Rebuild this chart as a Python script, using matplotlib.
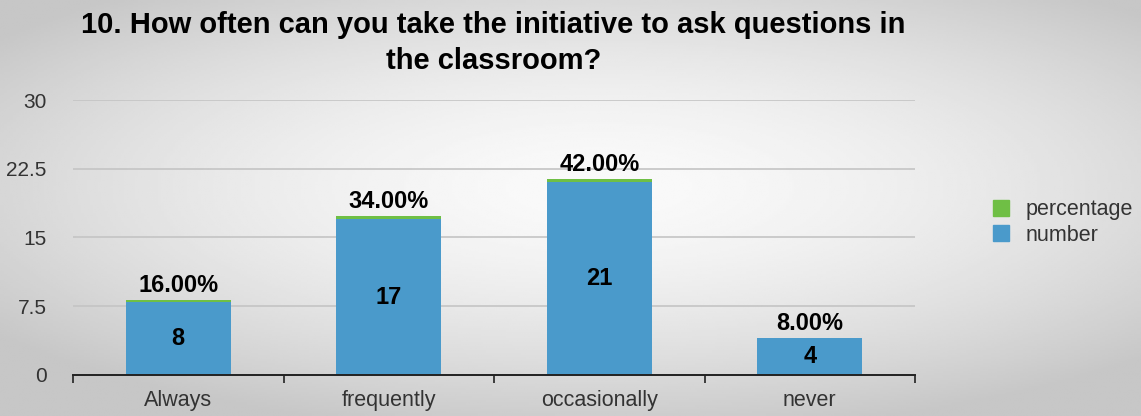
import numpy as np
import matplotlib.pyplot as plt
from matplotlib.patches import Patch

# --- données ---
categories = ['Always', 'frequently', 'occasionally', 'never']
number = [8, 17, 21, 4]
percentage = [0.16, 0.34, 0.42, 0.08]
yticks = [0, 7.5, 15, 22.5, 30]

blue = '#4a9acb'
green = '#6fbf45'

plt.rcParams['font.family'] = ['Liberation Sans', 'DejaVu Sans']

fig = plt.figure(figsize=(11.41, 4.16), dpi=100)

# fond dégradé gris -> blanc
bg = fig.add_axes([0, 0, 1, 1], zorder=-10)
gx, gy = np.meshgrid(np.linspace(-1, 1, 400), np.linspace(-1, 1, 200))
r = np.sqrt(((gx - 0.05) / 1.1) ** 2 + ((gy + 0.1) / 1.0) ** 2)
bg.imshow(0.98 - 0.15 * np.clip(r, 0, 1.2) ** 1.6, cmap='gray', vmin=0, vmax=1,
          aspect='auto', extent=[0, 1, 0, 1])
bg.axis('off')

ax = fig.add_axes([0.064, 0.0986, 0.738, 0.661])
ax.set_facecolor('none')

x = np.arange(len(categories))
ax.bar(x, number, width=0.5, color=blue, zorder=3)
ax.bar(x, percentage, width=0.5, bottom=number, color=green, zorder=3)

for xi, n, p in zip(x, number, percentage):
    ax.text(xi, n / 2, str(n), ha='center', va='center',
            fontsize=17, fontweight='bold', zorder=4)
    ax.annotate(f'{p * 100:.2f}%', (xi, n + p), xytext=(0, 2),
                textcoords='offset points', ha='center', va='bottom',
                fontsize=17, fontweight='bold', zorder=4)

ax.set_xlim(-0.5, len(categories) - 0.5)
ax.set_ylim(0, 30)
ax.set_yticks(yticks)
ax.set_yticklabels(['0', '7.5', '15', '22.5', '30'])
ax.yaxis.grid(True, color='#c4c4c4', linewidth=1.2, zorder=0)
ax.tick_params(axis='y', length=0, pad=19, labelsize=15, labelcolor='#333333')

# graduations x aux bords des catégories
ax.set_xticks(np.arange(-0.5, len(categories), 1))
ax.set_xticklabels([])
ax.set_xticks(x, minor=True)
ax.set_xticklabels(categories, minor=True)
ax.tick_params(axis='x', which='major', length=6, width=1.2, color='#222222',
               direction='out')
ax.tick_params(axis='x', which='minor', length=0, pad=11, labelsize=15.5,
               labelcolor='#333333')

for s in ['top', 'right', 'left']:
    ax.spines[s].set_visible(False)
ax.spines['bottom'].set_color('#222222')
ax.spines['bottom'].set_linewidth(1.4)
ax.spines['bottom'].set_zorder(5)

fig.text(0.4325, 0.897,
         '10. How often can you take the initiative to ask questions in\nthe classroom?',
         ha='center', va='center', fontsize=21, fontweight='bold', linespacing=1.35)

handles = [Patch(color=green, label='percentage'), Patch(color=blue, label='number')]
fig.legend(handles=handles, loc='center left', bbox_to_anchor=(0.870, 0.465),
           frameon=False, fontsize=15.5, handlelength=0.78, handleheight=0.78,
           handletextpad=0.75, labelspacing=0.2, borderpad=0, borderaxespad=0,
           labelcolor='#333333')

plt.savefig('out.png', dpi=100)
